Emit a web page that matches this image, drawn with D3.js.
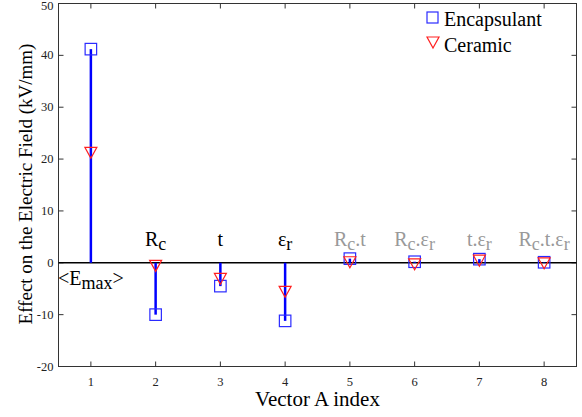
<!DOCTYPE html>
<html><head><meta charset="utf-8">
<script src="https://cdn.jsdelivr.net/npm/d3@7"></script>
<style>body{margin:0;background:#fff}</style>
</head><body><svg id="c" width="582" height="417"></svg>
<script>
const indices = [1,2,3,4,5,6,7,8];
const encapsulant = [41.2, -10.0, -4.5, -11.2, 0.8, 0.2, 0.7, 0.1];
const ceramic = [21.3, -0.5, -3.0, -5.5, 0.2, -0.2, 0.5, 0.0];
const yTicks = [-20,-10,0,10,20,30,40,50];
const labelsMain = [{i:2, base:"R", sub:"c"},{i:3, base:"t", sub:""},{i:4, base:"ε", sub:"r"}];
const labelsInter = [{i:5, parts:[["R",""],["c","sub"],[".t",""]]},{i:6, parts:[["R",""],["c","sub"],[".ε",""],["r","sub"]]},{i:7, parts:[["t.ε",""],["r","sub"]]},{i:8, parts:[["R",""],["c","sub"],[".t.ε",""],["r","sub"]]}];

const svg = d3.select("#c");
const L=58.5, R=576.5, T=3.5, B=366.5;
const x = d3.scaleLinear().domain([0.5,8.5]).range([L,R]);
const y = d3.scaleLinear().domain([-20,50]).range([B,T]);
const axisCol="#333";
const txt = (sel)=>sel.append("text").style("font-family",'"Liberation Serif"');

svg.append("rect").attr("x",L).attr("y",T).attr("width",R-L).attr("height",B-T).attr("fill","none").attr("stroke",axisCol).attr("stroke-width",1);
const tl=5;
indices.forEach(v=>{
  svg.append("line").attr("x1",x(v)).attr("x2",x(v)).attr("y1",B).attr("y2",B-tl).attr("stroke",axisCol);
  svg.append("line").attr("x1",x(v)).attr("x2",x(v)).attr("y1",T).attr("y2",T+tl).attr("stroke",axisCol);
  txt(svg).attr("x",x(v)).attr("y",B+19).attr("text-anchor","middle").attr("font-size",12.5).attr("fill","#222").text(v);
});
yTicks.forEach(v=>{
  svg.append("line").attr("x1",L).attr("x2",L+tl).attr("y1",y(v)).attr("y2",y(v)).attr("stroke",axisCol);
  svg.append("line").attr("x1",R).attr("x2",R-tl).attr("y1",y(v)).attr("y2",y(v)).attr("stroke",axisCol);
  txt(svg).attr("x",L-5).attr("y",Math.max(y(v)+4,10)).attr("text-anchor","end").attr("font-size",12.5).attr("fill","#222").text(v);
});
svg.append("line").attr("x1",L).attr("x2",R).attr("y1",y(0)).attr("y2",y(0)).attr("stroke","#000").attr("stroke-width",1.5);

svg.selectAll(".stem").data(indices).join("line").attr("class","stem")
  .attr("x1",d=>x(d)).attr("x2",d=>x(d)).attr("y1",y(0)).attr("y2",(d,i)=>y(encapsulant[i]))
  .attr("stroke","#0000ff").attr("stroke-width",2.5);

const s=11.5;
svg.selectAll(".sq").data(indices).join("rect").attr("class","sq")
  .attr("x",d=>x(d)-s/2).attr("y",(d,i)=>y(encapsulant[i])-s/2).attr("width",s).attr("height",s)
  .attr("fill","none").attr("stroke","#2a2aff").attr("stroke-width",1.2);
const tri = (cx,cy)=>`M${cx-6},${cy-5}L${cx+6},${cy-5}L${cx},${cy+6}Z`;
svg.selectAll(".tri").data(indices).join("path").attr("class","tri")
  .attr("d",(d,i)=>tri(x(d),y(ceramic[i])))
  .attr("fill","none").attr("stroke","#ff2020").attr("stroke-width",1.2);

const emax = txt(svg).attr("x",x(1)).attr("y",y(0)+22).attr("text-anchor","middle").attr("font-size",20).attr("fill","#000");
emax.append("tspan").text("<E");
emax.append("tspan").attr("font-size",18).attr("dy",4).text("max");
emax.append("tspan").attr("dy",-4).text(">");

labelsMain.forEach(l=>{
  const t=txt(svg).attr("x",x(l.i)).attr("y",y(0)-17).attr("text-anchor","middle").attr("font-size",20).attr("fill","#000");
  t.append("tspan").text(l.base);
  if(l.sub) t.append("tspan").attr("font-size",18).attr("dy",4).text(l.sub);
});
labelsInter.forEach(l=>{
  const t=txt(svg).attr("x",x(l.i)).attr("y",y(0)-17).attr("text-anchor","middle").attr("font-size",20).attr("fill","#999");
  let low=false;
  l.parts.forEach(([s2,kind])=>{
    const sp=t.append("tspan").text(s2);
    if(kind==="sub"){ sp.attr("font-size",18); if(!low){sp.attr("dy",4);low=true;} }
    else { if(low){sp.attr("dy",-4);low=false;} }
  });
});

svg.append("rect").attr("x",427).attr("y",12).attr("width",11).attr("height",11).attr("fill","none").attr("stroke","#2a2aff").attr("stroke-width",1.2);
txt(svg).attr("x",444).attr("y",26).attr("font-size",20).attr("fill","#000").text("Encapsulant");
svg.append("path").attr("d",tri(433,42)).attr("fill","none").attr("stroke","#ff2020").attr("stroke-width",1.2);
txt(svg).attr("x",444).attr("y",52).attr("font-size",20).attr("fill","#000").text("Ceramic");

txt(svg).attr("x",x(4.5)).attr("y",406).attr("text-anchor","middle").attr("font-size",21).attr("fill","#000").text("Vector A index");
txt(svg).attr("transform",`translate(32,184) rotate(-90)`).attr("text-anchor","middle").attr("font-size",19).attr("fill","#000").text("Effect on the Electric Field (kV/mm)");
</script></body></html>
